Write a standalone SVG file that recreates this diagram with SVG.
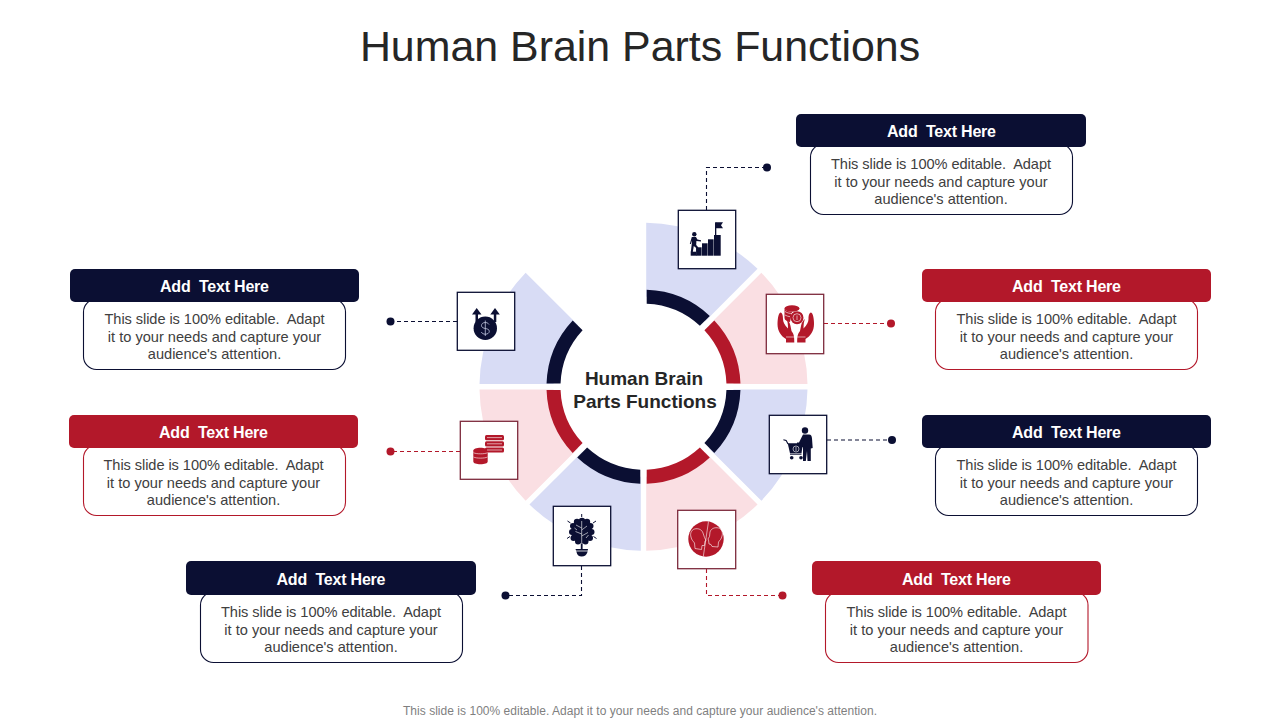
<svg xmlns="http://www.w3.org/2000/svg" width="1280" height="720" viewBox="0 0 1280 720">
<style>
text{font-family:"Liberation Sans",Arial,sans-serif;text-anchor:middle}
.title{font-size:42.9px;fill:#262626}
.center{font-size:19px;font-weight:bold;fill:#262626}
.foot{font-size:12px;fill:#7f7f7f}
.hd{font-size:16px;font-weight:bold;fill:#fff}
.bd{font-size:14.6px;fill:#404040}
.n{fill:#0b0f33}.r{fill:#b3182a}
.pb{fill:#d8dcf5}.pr{fill:#fadfe3}
.body{fill:#fff;stroke-width:1.1}
.sn{stroke:#0b0f33}.sr{stroke:#b3182a}
.box{fill:#fff;stroke-width:1.3}
.bn{stroke:#0b0f33}.br{stroke:#7d2a3c}
.con{fill:none;stroke-width:1.1;stroke-dasharray:4 3}
.wl{fill:none;stroke:#fff;stroke-width:.6}
</style>
<defs>
<path id="pale" d="M2.7-163.98A164 164 0 0 1 114.04-117.86L61.7-65.52A90 90 0 0 0 2.7-89.96Z"/>
<path id="ring" d="M3.2-96.95A97 97 0 0 1 66.29-70.82L56.38-60.91A83 83 0 0 0 3.2-82.94Z"/>
</defs>
<text class="title" x="640" y="61">Human Brain Parts Functions</text>
<g id="wheel">
<g transform="translate(643.5 386.7)">
<use href="#pale" class="pb"/><use href="#pale" class="pr" transform="rotate(45)"/><use href="#pale" class="pb" transform="rotate(90)"/><use href="#pale" class="pr" transform="rotate(135)"/><use href="#pale" class="pb" transform="rotate(180)"/><use href="#pale" class="pr" transform="rotate(225)"/><use href="#pale" class="pb" transform="rotate(270)"/>
<use href="#ring" class="n"/><use href="#ring" class="r" transform="rotate(45)"/><use href="#ring" class="n" transform="rotate(90)"/><use href="#ring" class="r" transform="rotate(135)"/><use href="#ring" class="n" transform="rotate(180)"/><use href="#ring" class="r" transform="rotate(225)"/><use href="#ring" class="n" transform="rotate(270)"/>
</g>
<text class="center" x="644" y="385">Human Brain</text>
<text class="center" x="645" y="408">Parts Functions</text>
</g>
<g id="connectors">
<path class="con sn" d="M706.5 210V167.5H767"/><circle class="n" cx="767" cy="167.5" r="4"/>
<path class="con sr" d="M824 323.5H891"/><circle class="r" cx="891" cy="323.5" r="4"/>
<path class="con sn" d="M827 440H892"/><circle class="n" cx="892" cy="440" r="4"/>
<path class="con sr" d="M706.5 569V595.5H782"/><circle class="r" cx="782.5" cy="595.5" r="4"/>
<path class="con sn" d="M581.5 566V595.5H505"/><circle class="n" cx="505.5" cy="595.5" r="4"/>
<path class="con sr" d="M460 451.5H390"/><circle class="r" cx="390.5" cy="451.5" r="4"/>
<path class="con sn" d="M457 321.5H390"/><circle class="n" cx="390.5" cy="321.5" r="4"/>
</g>
<g id="card-1">
<rect class="body sn" x="810.5" y="144" width="262" height="70.500" rx="13"/><rect class="n" x="796" y="114" width="290" height="33" rx="5"/>
<text class="hd" x="941.500" y="136.500" textLength="109" xml:space="preserve">Add  Text Here</text>
<text class="bd" x="941" y="169" textLength="220" xml:space="preserve">This slide is 100% editable.  Adapt</text><text class="bd" x="941" y="187">it to your needs and capture your</text><text class="bd" x="941" y="204">audience's attention.</text>
</g>
<g id="card-2">
<rect class="body sr" x="935.5" y="299" width="262" height="70.500" rx="13"/><rect class="r" x="922" y="269" width="289" height="33" rx="5"/>
<text class="hd" x="1066.500" y="291.500" textLength="109" xml:space="preserve">Add  Text Here</text>
<text class="bd" x="1066.500" y="324" textLength="220" xml:space="preserve">This slide is 100% editable.  Adapt</text><text class="bd" x="1066.500" y="342">it to your needs and capture your</text><text class="bd" x="1066.500" y="359">audience's attention.</text>
</g>
<g id="card-3">
<rect class="body sn" x="935.5" y="445" width="262" height="70.500" rx="13"/><rect class="n" x="922" y="415" width="289" height="33" rx="5"/>
<text class="hd" x="1066.500" y="437.500" textLength="109" xml:space="preserve">Add  Text Here</text>
<text class="bd" x="1066.500" y="470" textLength="220" xml:space="preserve">This slide is 100% editable.  Adapt</text><text class="bd" x="1066.500" y="488">it to your needs and capture your</text><text class="bd" x="1066.500" y="505">audience's attention.</text>
</g>
<g id="card-4">
<rect class="body sr" x="825.5" y="592" width="262.500" height="70.500" rx="13"/><rect class="r" x="812" y="561" width="289" height="34" rx="5"/>
<text class="hd" x="956.500" y="584.500" textLength="109" xml:space="preserve">Add  Text Here</text>
<text class="bd" x="956.500" y="617" textLength="220" xml:space="preserve">This slide is 100% editable.  Adapt</text><text class="bd" x="956.500" y="635">it to your needs and capture your</text><text class="bd" x="956.500" y="652">audience's attention.</text>
</g>
<g id="card-5">
<rect class="body sn" x="200.5" y="592" width="262" height="70.500" rx="13"/><rect class="n" x="186" y="561" width="290" height="34" rx="5"/>
<text class="hd" x="331" y="584.500" textLength="109" xml:space="preserve">Add  Text Here</text>
<text class="bd" x="331" y="617" textLength="220" xml:space="preserve">This slide is 100% editable.  Adapt</text><text class="bd" x="331" y="635">it to your needs and capture your</text><text class="bd" x="331" y="652">audience's attention.</text>
</g>
<g id="card-6">
<rect class="body sr" x="83.5" y="445" width="262" height="70.500" rx="13"/><rect class="r" x="69" y="415" width="289" height="33" rx="5"/>
<text class="hd" x="213.500" y="437.500" textLength="109" xml:space="preserve">Add  Text Here</text>
<text class="bd" x="213.500" y="470" textLength="220" xml:space="preserve">This slide is 100% editable.  Adapt</text><text class="bd" x="213.500" y="488">it to your needs and capture your</text><text class="bd" x="213.500" y="505">audience's attention.</text>
</g>
<g id="card-7">
<rect class="body sn" x="83.5" y="299" width="262" height="70.500" rx="13"/><rect class="n" x="70" y="269" width="289" height="33" rx="5"/>
<text class="hd" x="214.500" y="291.500" textLength="109" xml:space="preserve">Add  Text Here</text>
<text class="bd" x="214.500" y="324" textLength="220" xml:space="preserve">This slide is 100% editable.  Adapt</text><text class="bd" x="214.500" y="342">it to your needs and capture your</text><text class="bd" x="214.500" y="359">audience's attention.</text>
</g>
<g id="icon-1">
<rect class="box bn" x="678.3" y="210.3" width="57.4" height="58.4"/>
<g class="n">
<rect x="690.7" y="251.7" width="6" height="4"/><rect x="696.2" y="247.3" width="5.4" height="8.400"/><rect x="702" y="243.3" width="5.6" height="12.400"/><rect x="708" y="239.3" width="5.6" height="16.400"/><rect x="714" y="235" width="6.700" height="20.700"/>
<rect x="715" y="222.3" width="1.3" height="13"/><path d="M716 222.3H723L721 225.3L723 228.3H716Z"/>
<circle cx="694.3" cy="234.3" r="2.200"/>
<path d="M691.800 237H696L697.400 239.400L701 240.200V241.600L696.400 241L696.200 245L698.200 247.200V251.800H696.200V248L693.800 246L692.800 252H690.800L691.800 243.500L691.800 240.500L690.800 244H689.800Z"/>
</g>
</g>
<g id="icon-2">
<rect class="box br" x="766.3" y="294.3" width="57.4" height="59.4"/>
<g class="r">
<ellipse cx="792" cy="308.500" rx="7.500" ry="3.200"/><path d="M784.500 309V318C784.500 320 787 321.500 790 322L792 311.700C789 311.700 786 311 784.500 309Z"/>
<circle cx="797" cy="317.700" r="6.500"/>
<path d="M780.500 312.500C782.500 313 783 316 783 319C783 322 784.500 325 788 328.500C788 324 787.500 321 786.500 319C788.500 320.500 790 323 790.500 326L791.500 331C794 334 794.300 337 794.300 342.500H786V339C781 336 777.500 331 777.500 324C777.500 319 778.500 313 780.500 312.500Z"/>
<path d="M809.500 312.500C807.500 313 807 316 807 319C807 322 805.500 325 802 328.500C802 324 802.500 321 803.500 319C801.500 320.500 800 323 799.500 326L798.500 331C796 334 795.700 337 795.700 342.500H804V339C809 336 812.500 331 812.500 324C812.500 319 811.500 313 809.500 312.500Z" transform="translate(1.500 0)"/>
</g>
<path class="wl" d="M786 337H794.300M797.200 337H805.500M785 311.500C787 313 790 313.500 792 313.500M785 315C786.500 316 788.500 316.500 790 316.700"/>
<circle cx="797" cy="317.700" r="4" fill="none" stroke="#fff" stroke-width=".6"/><path class="wl" d="M797 315.500V320"/>
</g>
<g id="icon-3">
<rect class="box bn" x="769.3" y="415.3" width="57.4" height="58.4"/>
<g class="n">
<circle cx="805" cy="430.500" r="3.200"/>
<path d="M803 434.500H809C811 434.500 811.800 436 812 438.500L812.700 448L810.800 448.500V461H807.500L807 451L805.800 461H803V447.500L797 444V442.500H799Z"/>
<path d="M787.700 443.300H803L801.500 453.300H790Z"/>
<path d="M783.500 439.300L786.500 440L788.500 443.800L787.500 444.300L785.800 441L783.300 440.300Z"/>
<rect x="790" y="453.700" width="11.500" height="1"/>
<circle cx="791.700" cy="457.700" r="1.800"/><circle cx="801" cy="457.700" r="1.800"/>
</g>
<circle cx="796" cy="449" r="3" fill="none" stroke="#fff" stroke-width=".6"/><path class="wl" d="M796 447V451"/>
</g>
<g id="icon-4">
<rect class="box br" x="677.700" y="510.300" width="58" height="58.400"/>
<circle class="r" cx="706" cy="539" r="17.700"/>
<path class="wl" d="M708.500 521.500L703.300 556.500"/>
<path class="wl" d="M703 533C702 529.500 698 528 694.500 529C691 530 690 534 691 537C691.500 540 693.500 541.500 694.500 543L695 548.500L701.500 549.500L702 545.500L704.500 545.500L705 541L706 540.500L704.500 537.500Z"/>
<path class="wl" d="M709 533C710 529.500 714 528 717.500 529C721 530 722 534 721 537C720.500 540 718.500 541.500 717.500 543L717 548L711 547.500L710 545.500L708 545L707.500 541L707 540L708.500 537.500Z" transform="translate(1 -1)"/>
</g>
<g id="icon-5">
<rect class="box bn" x="553.300" y="506.300" width="57.400" height="59.400"/>
<g class="n">
<ellipse cx="581.700" cy="531.500" rx="10.500" ry="11.500"/>
<circle cx="577" cy="522" r="3.200"/><circle cx="582" cy="521" r="3.200"/><circle cx="587" cy="522" r="3.200"/>
<circle cx="573" cy="526" r="3"/><circle cx="590.500" cy="526" r="3"/><circle cx="572" cy="532" r="3"/><circle cx="591.500" cy="532" r="3"/>
<circle cx="573.500" cy="538" r="3"/><circle cx="590" cy="538" r="3"/><circle cx="578" cy="541.500" r="3"/><circle cx="585.500" cy="541.500" r="3"/>
<rect x="580.800" y="541" width="1.800" height="8"/>
<path d="M575.500 549H588L587.500 552C586.500 555 584.500 556.500 581.700 556.500C579 556.500 577 555 576.500 552Z"/>
</g>
<path fill="none" stroke="#0b0f33" stroke-width="1" d="M581.700 514V517M567.500 521L570.500 523M596 521L593 523M567 538.500L570 536.500M596.500 538.500L593.500 536.500"/>
<path class="wl" d="M581.700 521V544M581.700 528L576 525M581.700 534L575.500 531.500M581.700 530L587 526M581.700 536L588 532.500M574.500 528L577 530M588.500 535L586 538"/>
<rect x="575" y="550.600" width="13.500" height=".8" fill="#fff"/>
</g>
<g id="icon-6">
<rect class="box br" x="460.300" y="421.300" width="57.400" height="58"/>
<g class="r">
<rect x="485" y="435" width="19" height="5.200" rx="1.500"/><rect x="485" y="441.200" width="19" height="5.200" rx="1.500"/><rect x="485" y="447.400" width="19" height="5.200" rx="1.500"/>
<path d="M473.300 450.500C473.300 448.800 476.500 447.700 480.500 447.700C484.500 447.700 487.700 448.800 487.700 450.500V461.500C487.700 463.200 484.500 464.300 480.500 464.300C476.500 464.300 473.300 463.200 473.300 461.500Z"/>
</g>
<path class="wl" d="M473.500 452.700C476 454.200 485 454.200 487.500 452.700M473.500 457C476 458.500 485 458.500 487.500 457M487 437.600H502M487 443.800H502M487 450H502"/>
</g>
<g id="icon-7">
<rect class="box bn" x="457.300" y="292.300" width="57.400" height="58"/>
<g class="n">
<circle cx="485.300" cy="328.300" r="11.700"/>
<path d="M476.700 308L481.500 314.500H478V322H475.500V314.500H472Z"/>
<path d="M495 308L499.800 314.500H496.300V322H493.800V314.500H490.300Z"/>
</g>
<path fill="none" stroke="#d8dcf5" stroke-width=".7" d="M489 324.500C488 322.800 486.500 322.500 485.300 322.500C483 322.500 481.500 323.800 481.500 325.500C481.500 329.800 489.300 327.300 489.300 331.300C489.300 333 487.600 334.200 485.300 334.200C483.500 334.200 482 333.500 481.300 332M485.300 320.500V336"/>
</g>
<text class="foot" x="640" y="715" textLength="474">This slide is 100% editable. Adapt it to your needs and capture your audience's attention.</text>
</svg>
